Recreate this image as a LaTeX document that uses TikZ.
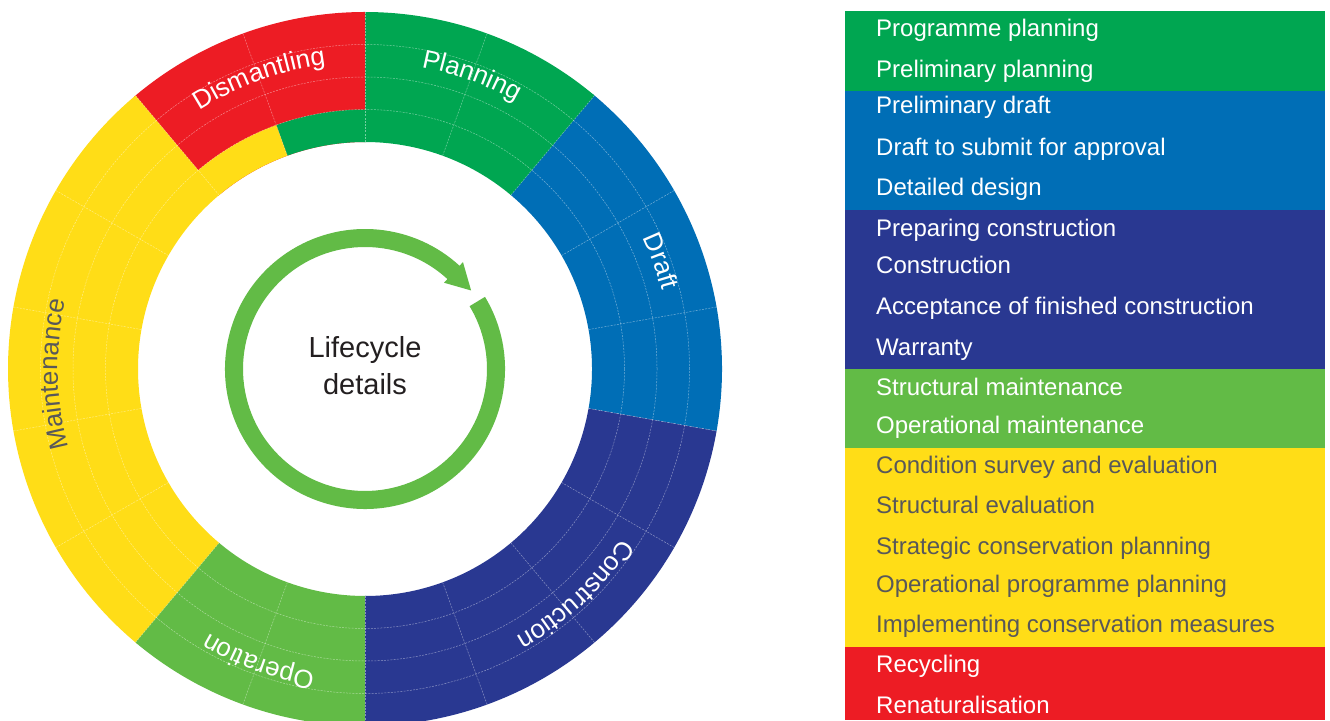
\documentclass[tikz,border=0pt]{standalone}
\usepackage{fontspec}
\setmainfont{Liberation Sans}
\usetikzlibrary{decorations.text}
\definecolor{plangreen}{RGB}{0,166,81}
\definecolor{draftblue}{RGB}{0,110,182}
\definecolor{consblue}{RGB}{41,56,145}
\definecolor{opgreen}{RGB}{98,187,70}
\definecolor{maintyellow}{RGB}{255,221,23}
\definecolor{dismred}{RGB}{237,28,36}
\definecolor{darktext}{RGB}{35,31,32}
\definecolor{graytext}{RGB}{88,88,90}
\newcommand\ringsector[5]{\fill[#1] (#2:#4pt) arc[start angle=#2,end angle=#3,radius=#4pt] -- (#3:#5pt) arc[start angle=#3,end angle=#2,radius=#5pt] -- cycle;}
\newcommand\lblfont{\fontsize{26}{26}\selectfont}
\tikzset{
  gridline/.style={draw=white,draw opacity=0.45,line width=0.5pt,dash pattern=on 2pt off 1.2pt},
  legtext/.style={anchor=base west,inner sep=0pt,font=\fontsize{24}{24}\selectfont},
  centertext/.style={anchor=base,inner sep=0pt,font=\fontsize{29}{29}\selectfont,text=darktext},
}
\begin{document}
\begin{tikzpicture}[x=1pt,y=1pt]
\useasboundingbox (0,0) rectangle (1330,720);
\fill[white] (0,0) rectangle (1330,720);
\begin{scope}[shift={(365,351)}]
  % ring sectors
  \ringsector{draftblue}{-10}{50.3}{227}{357}
  \ringsector{plangreen}{50}{90.3}{227}{357}
  \ringsector{dismred}{90}{130.3}{227}{357}
  \ringsector{maintyellow}{130}{230.3}{227}{357}
  \ringsector{opgreen}{230}{270.3}{227}{357}
  \ringsector{consblue}{270}{350}{227}{357}
  \ringsector{plangreen}{89.7}{110}{227}{259.5}
  \ringsector{maintyellow}{110}{130.3}{227}{259.5}
  % grid
  \foreach \r in {259.5,292,324.5} \draw[gridline] (0,0) circle[radius=\r pt];
  \foreach \a in {10,30,...,350} \draw[gridline] (\a:227pt) -- (\a:357pt);
  % labels
  \path[decorate,decoration={text along path,text align=center,text={|\lblfont\color{white}|Planning}}] (90:307pt) arc[start angle=90,end angle=50,radius=307pt];
  \path[decorate,decoration={text along path,text align=center,text={|\lblfont\color{white}|Draft}}] (50:307pt) arc[start angle=50,end angle=-10,radius=307pt];
  \path[decorate,decoration={text along path,text align=center,text={|\lblfont\color{white}|Construction}}] (353:307pt) arc[start angle=353,end angle=273,radius=307pt];
  \path[decorate,decoration={text along path,text align=center,text={|\lblfont\color{white}|Operation}}] (270:307pt) arc[start angle=270,end angle=230,radius=307pt];
  \path[decorate,decoration={text along path,text align=center,text={|\lblfont\color{graytext}|Maintenance}}] (231:307pt) arc[start angle=231,end angle=131,radius=307pt];
  \path[decorate,decoration={text along path,text align=center,text={|\lblfont\color{white}|Dismantling}}] (130:307pt) arc[start angle=130,end angle=90,radius=307pt];
  % cycle arrow (one filled outline, no seams)
  \fill[opgreen] (31:140pt) arc[start angle=31,end angle=-312.5,radius=140pt]
    -- (47.5:145pt) -- (36.5:132pt) -- (47.5:117pt) -- (47.5:122pt)
    arc[start angle=-312.5,end angle=31,radius=122pt] -- cycle;
\end{scope}
\node[centertext] (lc1) at (365,362) {Lifecycle};
\node[centertext] (lc2) at (365,325) {details};
% legend
\fill[plangreen] (845,709) rectangle (1325,629);
\fill[draftblue] (845,629) rectangle (1325,510);
\fill[consblue] (845,510) rectangle (1325,351);
\fill[opgreen] (845,351) rectangle (1325,272);
\fill[maintyellow] (845,272) rectangle (1325,73);
\fill[dismred] (845,73) rectangle (1325,0);
\node[legtext,text=white] (t1) at (876,683) {Programme planning};
\node[legtext,text=white] (t2) at (876,642) {Preliminary planning};
\node[legtext,text=white] (t3) at (876,606) {Preliminary draft};
\node[legtext,text=white] (t4) at (876,564) {Draft to submit for approval};
\node[legtext,text=white] (t5) at (876,524) {Detailed design};
\node[legtext,text=white] (t6) at (876,483) {Preparing construction};
\node[legtext,text=white] (t7) at (876,446) {Construction};
\node[legtext,text=white] (t8) at (876,405) {Acceptance of finished construction};
\node[legtext,text=white] (t9) at (876,364) {Warranty};
\node[legtext,text=white] (t10) at (876,324) {Structural maintenance};
\node[legtext,text=white] (t11) at (876,286) {Operational maintenance};
\node[legtext,text=graytext] (t12) at (876,246) {Condition survey and evaluation};
\node[legtext,text=graytext] (t13) at (876,206) {Structural evaluation};
\node[legtext,text=graytext] (t14) at (876,165) {Strategic conservation planning};
\node[legtext,text=graytext] (t15) at (876,127) {Operational programme planning};
\node[legtext,text=graytext] (t16) at (876,87) {Implementing conservation measures};
\node[legtext,text=white] (t17) at (876,47) {Recycling};
\node[legtext,text=white] (t18) at (876,7) {Renaturalisation};
\end{tikzpicture}
\end{document}
